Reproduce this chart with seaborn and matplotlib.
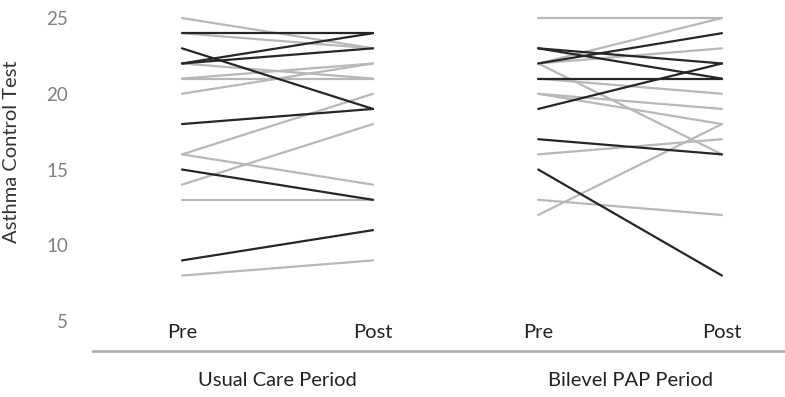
import pandas as pd
import numpy as np
import matplotlib
matplotlib.use('Agg')
import matplotlib.pyplot as plt
import seaborn as sns

# Asthma Control Test scores, one entry per patient (pre, post, dark line?)
periods = ['Usual Care Period', 'Bilevel PAP Period']
times = ['Pre', 'Post']

uc_pre = [25, 24, 24, 23, 22, 22, 22, 21, 21, 20, 18, 16, 16, 14, 15, 13, 9, 8]
uc_post = [23, 24, 23, 19, 24, 23, 21, 21, 22, 22, 19, 20, 14, 18, 13, 13, 11, 9]
uc_dark = [0, 1, 0, 1, 1, 1, 0, 0, 0, 0, 1, 0, 0, 0, 1, 0, 1, 0]

bp_pre = [25, 22, 22, 23, 23, 22, 21, 19, 21, 20, 20, 22, 17, 16, 15, 13, 12]
bp_post = [25, 25, 23, 22, 21, 24, 21, 22, 20, 19, 18, 16, 16, 17, 8, 12, 18]
bp_dark = [0, 0, 0, 1, 1, 1, 1, 1, 0, 0, 0, 0, 1, 0, 1, 0, 0]

yticks = [5, 10, 15, 20, 25]

# layout of the x axis (pre/post positions per period)
offsets = [0.0, 1.865]
spans = [1.0, 0.962]

rows = []
for p, (pre, post, dark) in enumerate([(uc_pre, uc_post, uc_dark), (bp_pre, bp_post, bp_dark)]):
    for i in range(len(pre)):
        shade = 'dark' if dark[i] else 'light'
        rows.append({'subject': f'{p}-{i}', 'x': offsets[p], 'score': pre[i], 'shade': shade})
        rows.append({'subject': f'{p}-{i}', 'x': offsets[p] + spans[p], 'score': post[i], 'shade': shade})
df = pd.DataFrame(rows)

sns.set_style('white')
plt.rcParams['font.family'] = ['Lato', 'DejaVu Sans']

fig = plt.figure(figsize=(7.85, 3.97), dpi=100)
ax = fig.add_axes([93 / 785, 46 / 397, 692 / 785, 351 / 397])

palette = {'light': '#b8b8b8', 'dark': '#262626'}
for shade in ['light', 'dark']:
    sns.lineplot(data=df[df['shade'] == shade], x='x', y='score', units='subject',
                 estimator=None, color=palette[shade], linewidth=1.6, sort=False,
                 legend=False, ax=ax)

ax.set_xlim(-0.466, 3.157)
ax.set_ylim(3.02, 26.19)

ax.set_yticks(yticks)
ax.set_yticklabels([str(t) for t in yticks], fontsize=13.5, color='#7f7f7f')
ax.tick_params(axis='y', length=0, pad=18)
ax.set_xticks([])
ax.set_xlabel('')
ax.set_ylabel('Asthma Control Test', fontsize=14.5, color='#333333')
ax.yaxis.set_label_coords(-0.105, 0.568)

for s in ['top', 'right', 'left']:
    ax.spines[s].set_visible(False)
ax.spines['bottom'].set_color('#b0b0b0')
ax.spines['bottom'].set_linewidth(2)

trans = ax.get_xaxis_transform()
for p, name in enumerate(periods):
    for t, lab in enumerate(times):
        ax.text(offsets[p] + t * spans[p], 0.052, lab, transform=trans, ha='center',
                va='center', fontsize=14.5, color='#222222', clip_on=False)
    ax.text(offsets[p] + spans[p] / 2, -0.085, name, transform=trans, ha='center',
            va='center', fontsize=14.5, color='#222222', clip_on=False)

fig.savefig('out.png', dpi=100)
